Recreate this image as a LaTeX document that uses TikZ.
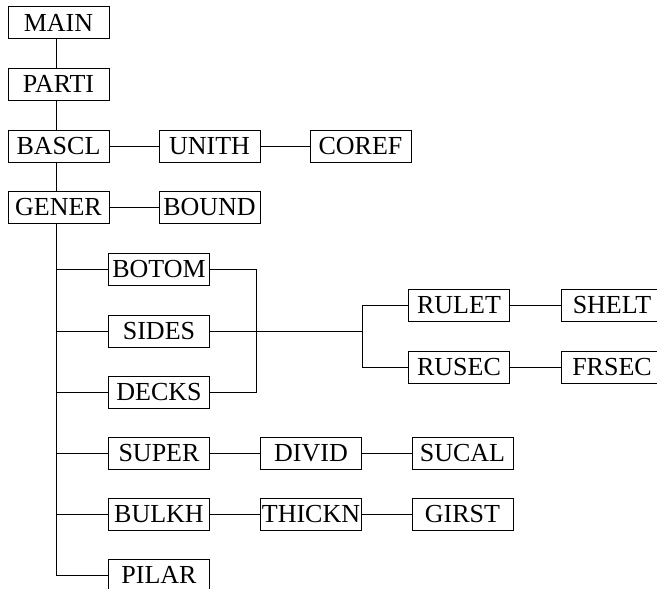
\documentclass[tikz,border=0pt]{standalone}
\usepackage{fontspec}
\setmainfont{Liberation Serif}
\begin{document}
\begin{tikzpicture}[x=1pt,y=-1pt,
  box/.style={draw, line width=1pt, minimum width=101pt, minimum height=32pt, inner sep=0pt, font=\fontsize{26}{26}\selectfont},
  conn/.style={line width=1pt}]
\useasboundingbox (0,0) rectangle (657,589);
\node[box] (MAIN)  at (58.5,22.5) {MAIN};
\node[box] (PARTI) at (58.5,84) {PARTI};
\node[box] (BASCL) at (58.5,146) {BASCL};
\node[box] (UNITH) at (209.5,146) {UNITH};
\node[box] (COREF) at (360.5,146) {COREF};
\node[box] (GENER) at (58.5,207.5) {GENER};
\node[box] (BOUND) at (209.5,207.5) {BOUND};
\node[box] (BOTOM) at (159,269.5) {BOTOM};
\node[box] (SIDES) at (159,331) {SIDES};
\node[box] (DECKS) at (159,392.5) {DECKS};
\node[box] (SUPER) at (159,453.5) {SUPER};
\node[box] (BULKH) at (159,514.5) {BULKH};
\node[box] (PILAR) at (159,575) {PILAR};
\node[box] (RULET) at (459,305) {RULET};
\node[box] (RUSEC) at (459,367) {RUSEC};
\node[box] (SHELT) at (612,305) {SHELT};
\node[box] (FRSEC) at (612,367) {FRSEC};
\node[box] (DIVID) at (311,453.5) {DIVID};
\node[box] (SUCAL) at (462.5,453.5) {SUCAL};
\node[box] (THICKN) at (311,514.5) {THICKN};
\node[box] (GIRST) at (462.5,514.5) {GIRST};
\coordinate (sp) at (56,0);
\coordinate (br) at (256,0);
\coordinate (rb) at (362,0);
\draw[conn] (MAIN.south -| sp) -- (PARTI.north -| sp);
\draw[conn] (PARTI.south -| sp) -- (BASCL.north -| sp);
\draw[conn] (BASCL.south -| sp) -- (GENER.north -| sp);
\draw[conn] (BASCL) -- (UNITH);
\draw[conn] (UNITH) -- (COREF);
\draw[conn] (GENER) -- (BOUND);
\draw[conn] (GENER.south -| sp) -- (sp |- PILAR.west) -- (PILAR.west);
\draw[conn] (sp |- BOTOM.west) -- (BOTOM.west);
\draw[conn] (sp |- SIDES.west) -- (SIDES.west);
\draw[conn] (sp |- DECKS.west) -- (DECKS.west);
\draw[conn] (sp |- SUPER.west) -- (SUPER.west);
\draw[conn] (sp |- BULKH.west) -- (BULKH.west);
\draw[conn] (BOTOM.east) -- (br |- BOTOM.east) -- (br |- DECKS.east) -- (DECKS.east);
\draw[conn] (SIDES.east) -- (rb |- SIDES.east);
\draw[conn] (RULET.west) -- (rb |- RULET.west) -- (rb |- RUSEC.west) -- (RUSEC.west);
\draw[conn] (RULET) -- (SHELT);
\draw[conn] (RUSEC) -- (FRSEC);
\draw[conn] (SUPER) -- (DIVID);
\draw[conn] (DIVID) -- (SUCAL);
\draw[conn] (BULKH) -- (THICKN);
\draw[conn] (THICKN) -- (GIRST);
\end{tikzpicture}
\end{document}
